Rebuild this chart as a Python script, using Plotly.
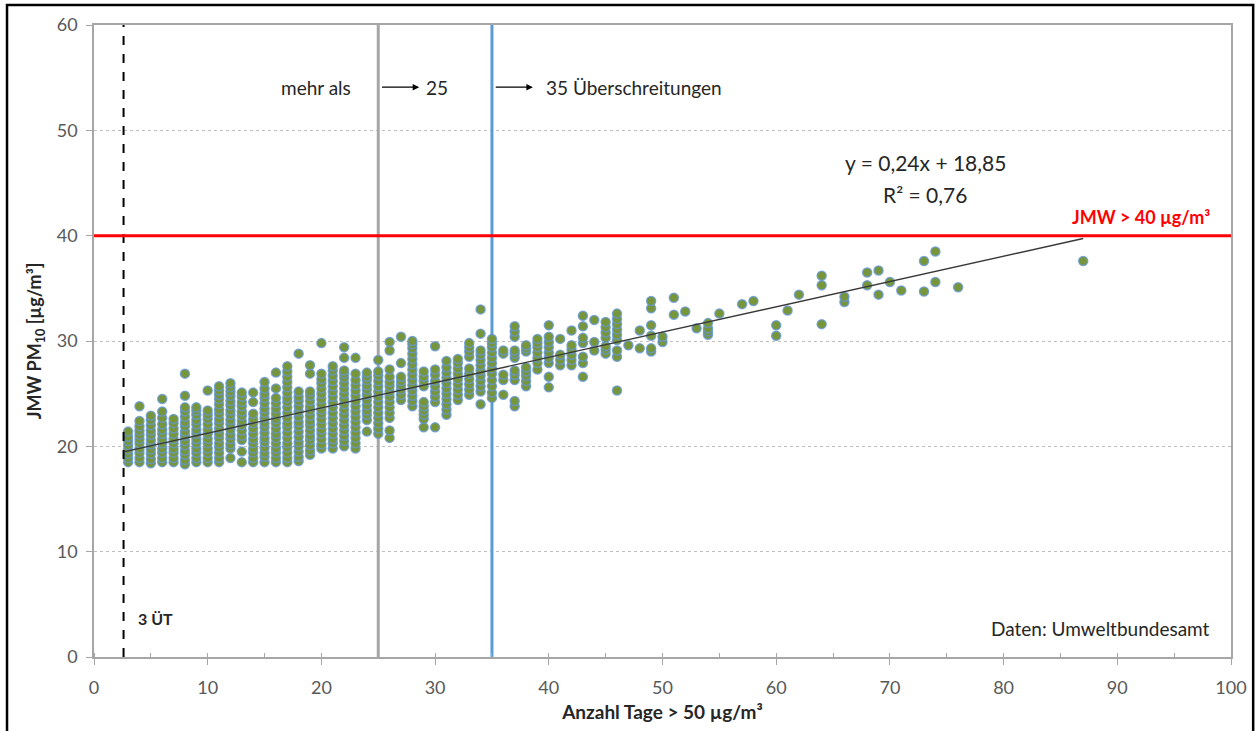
import plotly.graph_objects as go

# ---------------- data ----------------
tage = [3, 4, 5, 6, 7, 8, 9, 10, 11, 12, 13, 14, 15, 16, 17, 18, 19, 20, 21, 22, 23, 24, 25,
        26, 27, 28, 29, 30, 31, 32, 33, 34, 35, 36, 37, 38, 39, 40, 41, 42, 43, 44, 45, 46,
        47, 48, 49, 50, 51, 52, 53, 54, 55, 57, 58, 60, 61, 62, 64, 66, 68, 69, 70, 71, 73,
        74, 76, 87]

jmw_je_tage = [
    [18.5, 18.9, 19.3, 19.7, 20.1, 20.5, 20.9, 21.4],
    [18.5, 18.9, 19.4, 19.8, 20.3, 20.7, 21.1, 21.5, 21.9, 22.4, 23.8],
    [18.4, 18.8, 19.3, 19.7, 20.2, 20.6, 21.1, 21.5, 22.0, 22.5, 22.9],
    [18.5, 18.9, 19.4, 19.8, 20.3, 20.7, 21.2, 21.6, 22.1, 22.7, 23.3, 24.5],
    [18.5, 18.9, 19.4, 19.8, 20.3, 20.7, 21.2, 21.7, 22.2, 22.6],
    [18.3, 18.7, 19.2, 19.6, 20.1, 20.5, 21.0, 21.4, 21.9, 22.3, 22.8, 23.3, 23.7, 24.8, 26.9],
    [18.5, 18.9, 19.4, 19.8, 20.3, 20.7, 21.2, 21.6, 22.1, 22.5, 23.0, 23.4, 23.7],
    [18.5, 18.9, 19.4, 19.8, 20.3, 20.7, 21.2, 21.6, 22.1, 22.6, 23.0, 23.4, 25.3],
    [18.5, 18.9, 19.4, 19.9, 20.3, 20.8, 21.2, 21.7, 22.2, 22.6, 23.1, 23.5, 24.0, 24.5, 24.9, 25.3, 25.7],
    [18.9, 19.8, 20.2, 20.7, 21.1, 21.6, 22.1, 22.5, 23.0, 23.4, 23.9, 24.3, 24.8, 25.2, 25.6, 26.0],
    [18.5, 19.5, 20.6, 21.0, 21.5, 22.0, 22.4, 22.9, 23.3, 23.8, 24.2, 24.7, 25.1],
    [18.5, 18.9, 19.4, 19.8, 20.3, 20.7, 21.2, 21.7, 22.2, 22.6, 23.1, 24.2, 25.1],
    [18.5, 19.0, 19.4, 19.9, 20.4, 20.8, 21.3, 21.8, 22.2, 22.7, 23.2, 23.6, 24.1, 24.6, 25.0, 25.5, 26.1],
    [18.5, 18.9, 19.4, 19.8, 20.3, 20.8, 21.2, 21.7, 22.2, 22.6, 23.1, 23.6, 24.1, 24.6, 25.5, 27.0],
    [18.5, 18.9, 19.4, 19.9, 20.3, 20.8, 21.3, 21.8, 22.2, 22.7, 23.2, 23.7, 24.2, 24.6, 25.1, 25.6, 26.1, 26.6, 27.1, 27.6],
    [18.6, 19.0, 19.5, 20.0, 20.4, 20.9, 21.4, 21.9, 22.3, 22.8, 23.3, 23.8, 24.3, 24.7, 25.2, 28.8],
    [19.2, 19.6, 20.1, 20.6, 21.0, 21.5, 22.0, 22.4, 22.9, 23.4, 23.8, 24.3, 24.8, 25.2, 26.9, 27.7],
    [19.8, 20.2, 20.7, 21.2, 21.6, 22.1, 22.6, 23.1, 23.5, 24.0, 24.5, 25.0, 25.5, 26.0, 26.4, 26.9, 29.8],
    [19.8, 20.3, 20.7, 21.2, 21.7, 22.2, 22.7, 23.2, 23.7, 24.2, 24.7, 25.2, 25.7, 26.2, 26.7, 27.2, 27.6],
    [20.0, 20.5, 21.0, 21.5, 22.0, 22.5, 23.0, 23.5, 24.0, 24.5, 25.0, 25.5, 26.0, 26.5, 26.9, 27.2, 28.4, 29.4],
    [19.8, 20.3, 20.8, 21.3, 21.8, 22.3, 22.8, 23.3, 23.8, 24.3, 24.8, 25.3, 25.8, 26.3, 26.9, 28.4],
    [21.4, 22.5, 23.0, 23.4, 23.9, 24.4, 24.9, 25.4, 25.8, 26.3, 26.6, 27.0],
    [21.2, 21.7, 22.2, 22.7, 23.2, 23.7, 24.2, 24.7, 25.2, 25.7, 26.2, 26.7, 27.1, 28.2],
    [20.8, 21.5, 22.7, 23.2, 23.7, 24.2, 24.7, 25.2, 25.7, 26.1, 26.6, 27.3, 29.1, 29.9],
    [24.4, 24.9, 25.4, 25.8, 26.2, 26.6, 27.9, 30.4],
    [23.8, 24.3, 24.8, 25.3, 25.8, 26.3, 26.8, 27.3, 27.8, 28.3, 28.8, 29.3, 29.7, 30.0],
    [21.8, 22.6, 23.0, 23.4, 23.8, 24.2, 25.7, 26.2, 26.6, 27.1],
    [21.8, 24.2, 24.7, 25.2, 25.7, 26.2, 26.8, 27.3, 29.5],
    [23.0, 23.5, 24.0, 24.5, 25.0, 25.5, 26.0, 26.5, 27.0, 27.5, 28.1],
    [24.4, 24.9, 25.4, 25.9, 26.4, 26.9, 27.4, 27.9, 28.3],
    [24.9, 25.4, 25.9, 26.4, 26.9, 27.4, 28.5, 29.0, 29.4, 29.8],
    [24.0, 25.2, 25.7, 26.2, 26.7, 27.2, 27.7, 28.2, 28.7, 29.1, 30.7, 33.0],
    [24.6, 25.1, 25.7, 26.3, 26.9, 27.4, 27.9, 28.4, 28.9, 29.4, 29.8, 30.2],
    [24.9, 26.3, 26.8, 28.8, 29.1],
    [23.8, 24.3, 26.3, 26.8, 27.2, 28.4, 28.8, 29.1, 30.4, 30.9, 31.4],
    [25.7, 26.2, 26.7, 27.1, 27.5, 29.0, 29.3, 29.6],
    [27.3, 27.9, 28.4, 28.9, 29.4, 29.8, 30.2],
    [25.6, 26.6, 27.9, 28.4, 28.9, 29.4, 29.9, 30.4, 31.5],
    [27.7, 28.2, 28.7, 30.2],
    [27.7, 28.2, 28.7, 29.2, 29.6, 31.0],
    [26.6, 27.9, 28.5, 29.8, 30.3, 31.4, 32.4],
    [29.1, 29.9, 32.0],
    [28.8, 29.2, 29.5, 30.3, 30.8, 31.3, 31.8],
    [25.3, 28.5, 29.1, 30.1, 30.6, 31.1, 31.6, 32.1, 32.6],
    [29.6],
    [29.3, 31.0],
    [29.0, 29.3, 30.5, 31.5, 33.1, 33.8],
    [29.9, 30.4],
    [32.5, 34.1],
    [32.8],
    [31.2],
    [30.6, 30.9, 31.2, 31.7],
    [32.6],
    [33.5],
    [33.8],
    [30.5, 31.5],
    [32.9],
    [34.4],
    [31.6, 35.3, 36.2],
    [33.7, 34.2],
    [35.3, 36.5],
    [34.4, 36.7],
    [35.6],
    [34.8],
    [34.7, 37.6],
    [35.6, 38.5],
    [35.1],
    [37.6],
]

# regression shown in the chart
trend_slope = 0.24
trend_intercept = 18.85
trend_x_range = [2.6, 87]

# reference values
ueberschreitungen_3 = 2.6
ueberschreitungen_25 = 25
ueberschreitungen_35 = 35
grenzwert_jmw = 40

x_ticks = [0, 10, 20, 30, 40, 50, 60, 70, 80, 90, 100]
y_ticks = [0, 10, 20, 30, 40, 50, 60]

# ---------------- figure ----------------
xs, ys = [], []
for t, vals in zip(tage, jmw_je_tage):
    for v in vals:
        xs.append(t)
        ys.append(v)

FONT = "Lato, 'Open Sans', sans-serif"
fig = go.Figure()

# reference lines (behind points)
fig.add_trace(go.Scatter(x=[ueberschreitungen_25, ueberschreitungen_25], y=[0, 60], mode="lines",
                         line=dict(color="#A6A6A6", width=3), hoverinfo="skip", showlegend=False))
fig.add_trace(go.Scatter(x=[ueberschreitungen_35, ueberschreitungen_35], y=[0, 60], mode="lines",
                         line=dict(color="#5B9BD5", width=3), hoverinfo="skip", showlegend=False))

fig.add_trace(go.Scatter(
    x=xs, y=ys, mode="markers",
    marker=dict(size=9, color="#77963A", line=dict(color="rgba(100,150,210,0.8)", width=1.5)),
    showlegend=False))

fig.add_trace(go.Scatter(x=[ueberschreitungen_3, ueberschreitungen_3], y=[0, 60], mode="lines",
                         line=dict(color="black", width=2, dash="dash"), hoverinfo="skip", showlegend=False))
fig.add_trace(go.Scatter(x=[0, 100], y=[grenzwert_jmw, grenzwert_jmw], mode="lines",
                         line=dict(color="#FF0000", width=3), hoverinfo="skip", showlegend=False))
fig.add_trace(go.Scatter(x=trend_x_range,
                         y=[trend_slope * v + trend_intercept for v in trend_x_range],
                         mode="lines", line=dict(color="#3A3A3A", width=1.4),
                         hoverinfo="skip", showlegend=False))

txt = dict(family=FONT, size=19, color="#262626")
fig.add_annotation(x=19.5, y=54.1, text="mehr als", showarrow=False, font=txt)
fig.add_annotation(x=28.6, y=54.1, ax=ueberschreitungen_25 + 0.2, ay=54.1, axref="x", ayref="y",
                   text="", showarrow=True, arrowhead=2, arrowsize=1, arrowwidth=1.3, arrowcolor="black")
fig.add_annotation(x=30.2, y=54.1, text="25", showarrow=False, font=txt)
fig.add_annotation(x=38.6, y=54.1, ax=ueberschreitungen_35 + 0.2, ay=54.1, axref="x", ayref="y",
                   text="", showarrow=True, arrowhead=2, arrowsize=1, arrowwidth=1.3, arrowcolor="black")
fig.add_annotation(x=39.6, y=54.1, text="35 Überschreitungen", showarrow=False, font=txt, xanchor="left")

fig.add_annotation(x=73.1, y=46.9, text="y = 0,24x + 18,85", showarrow=False,
                   font=dict(family=FONT, size=21, color="#262626"))
fig.add_annotation(x=73.1, y=43.9, text="R² = 0,76", showarrow=False,
                   font=dict(family=FONT, size=21, color="#262626"))
fig.add_annotation(x=98.3, y=41.8, text="<b>JMW > 40 µg/m³</b>", showarrow=False, xanchor="right",
                   font=dict(family=FONT, size=18, color="#FF0000"))
fig.add_annotation(x=3.7, y=3.7, text="<b>3 ÜT</b>", showarrow=False, xanchor="left",
                   font=dict(family=FONT, size=16, color="#262626"))
fig.add_annotation(x=98.3, y=2.7, text="Daten: Umweltbundesamt", showarrow=False, xanchor="right",
                   font=dict(family=FONT, size=19, color="#262626"))

# outer black frame
fig.add_shape(type="rect", xref="paper", yref="paper", x0=-0.0765, x1=1.0195, y0=-0.14, y1=1.0316,
              line=dict(color="black", width=2.5), fillcolor="rgba(0,0,0,0)", layer="above")

fig.update_layout(
    width=1258, height=731,
    margin=dict(l=94, r=27, t=25, b=74),
    plot_bgcolor="white", paper_bgcolor="white",
    font=dict(family=FONT),
    xaxis=dict(range=[0, 100], tickvals=x_ticks, ticks="outside", ticklen=6, tickcolor="#A6A6A6",
               ticklabelstandoff=8,
               showgrid=False, zeroline=False, showline=True, linecolor="#A6A6A6", linewidth=1.5,
               mirror=True, tickfont=dict(family=FONT, size=18, color="#595959"),
               minor=dict(dtick=5, ticks="inside", ticklen=4, tickcolor="#A6A6A6"),
               title=dict(text="<b>Anzahl Tage > 50 µg/m³</b>", font=dict(family=FONT, size=19, color="#262626"),
                          standoff=8)),
    yaxis=dict(range=[0, 60], tickvals=y_ticks, ticks="outside", ticklen=6, tickcolor="#A6A6A6",
               ticklabelstandoff=5,
               showgrid=True, gridcolor="#BFBFBF", griddash="dot", gridwidth=1,
               zeroline=False, showline=True, linecolor="#A6A6A6", linewidth=1.5, mirror=True,
               tickfont=dict(family=FONT, size=18, color="#595959"),
               title=dict(text="<b>JMW PM<sub>10</sub> [µg/m³]</b>", font=dict(family=FONT, size=18, color="#262626"),
                          standoff=10)),
)

fig.write_html("out.html", post_script="document.body.style.margin='0px';",
               config={"displayModeBar": False})
